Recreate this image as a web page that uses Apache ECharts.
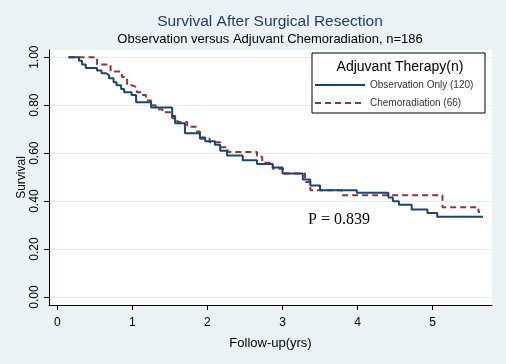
<!DOCTYPE html>
<html>
<head>
<meta charset="utf-8">
<script src="https://cdn.jsdelivr.net/npm/echarts@6/dist/echarts.min.js"></script>
<style>
  html, body { margin: 0; padding: 0; background: #eaf2f3; }
  #chart { width: 506px; height: 364px; }
</style>
</head>
<body>
<div id="chart"></div>
<script>
// Kaplan-Meier steps: [years, survival]
const observation = [
  [0.15, 1.00], [0.29, 0.985], [0.33, 0.97], [0.38, 0.955], [0.53, 0.945],
  [0.59, 0.933], [0.65, 0.925], [0.69, 0.912], [0.75, 0.896], [0.79, 0.883],
  [0.85, 0.867], [0.89, 0.854], [0.99, 0.842], [1.05, 0.812], [1.25, 0.79],
  [1.53, 0.755], [1.57, 0.725], [1.70, 0.683], [1.90, 0.665], [1.97, 0.65],
  [2.10, 0.635], [2.17, 0.61], [2.26, 0.59], [2.47, 0.57], [2.66, 0.555],
  [2.87, 0.54], [3.00, 0.515], [3.27, 0.49], [3.37, 0.465], [3.50, 0.445],
  [3.99, 0.435], [4.41, 0.415], [4.47, 0.40], [4.55, 0.385], [4.72, 0.365],
  [4.93, 0.35], [5.06, 0.335], [5.67, 0.335]
]
const chemoradiation = [
  [0.15, 1.00], [0.53, 0.97], [0.71, 0.94], [0.86, 0.917], [0.93, 0.883],
  [0.99, 0.875], [1.06, 0.854], [1.13, 0.842], [1.18, 0.82], [1.25, 0.80],
  [1.31, 0.783], [1.40, 0.77], [1.53, 0.745], [1.60, 0.73], [1.73, 0.71],
  [1.86, 0.69], [1.90, 0.66], [2.03, 0.645], [2.17, 0.625], [2.27, 0.605],
  [2.66, 0.585], [2.73, 0.56], [2.87, 0.535], [3.01, 0.515], [3.30, 0.48],
  [3.37, 0.445], [3.79, 0.425], [5.13, 0.375], [5.61, 0.355], [5.63, 0.355]
]
const xTicks = [0, 1, 2, 3, 4, 5]
const yTicks = [0, 0.2, 0.4, 0.6, 0.8, 1.0]
const seriesNames = ['Observation Only (120)', 'Chemoradiation (66)']

const chart = echarts.init(document.getElementById('chart'))

const font = 'Liberation Sans, Arial, sans-serif'

const option = {
  backgroundColor: '#eaf2f3',
  animation: false,
  grid: {
    left: 49, right: 14, top: 50, bottom: 59,
    show: true, backgroundColor: '#fff', borderWidth: 0
  },
  xAxis: {
    type: 'value',
    min: -0.11, max: 5.79,
    name: 'Follow-up(yrs)',
    nameLocation: 'middle',
    nameGap: 32,
    nameTextStyle: { fontFamily: font, fontSize: 13, color: '#000' },
    axisLine: { show: true, onZero: false, lineStyle: { color: '#000', width: 1 } },
    axisTick: { show: true, length: 5, customValues: xTicks, lineStyle: { color: '#000' } },
    axisLabel: { customValues: xTicks, fontFamily: font, fontSize: 12, color: '#000', margin: 12 },
    splitLine: { show: false }
  },
  yAxis: {
    type: 'value',
    min: -0.033, max: 1.03,
    name: 'Survival',
    nameLocation: 'middle',
    nameGap: 21,
    nameMoveOverlap: false,
    nameTextStyle: { fontFamily: font, fontSize: 12, color: '#000' },
    axisLine: { show: true, onZero: false, lineStyle: { color: '#000', width: 1 } },
    axisTick: { show: true, length: 5, customValues: yTicks, lineStyle: { color: '#000' } },
    axisLabel: {
      customValues: yTicks, rotate: 90, fontFamily: font, fontSize: 12, color: '#000', margin: 8,
      formatter: v => v.toFixed(2)
    },
    splitLine: { show: true, lineStyle: { color: '#e6eef0', width: 1 } }
  },
  legend: {
    orient: 'vertical',
    left: 309, top: 75,
    z: 20,
    itemWidth: 50, itemHeight: 10, itemGap: 8,
    itemStyle: { opacity: 0 },
    textStyle: { fontFamily: font, fontSize: 10, color: '#333' },
    data: seriesNames
  },
  graphic: [
    {
      type: 'text',
      x: 270, y: 22,
      style: {
        text: 'Survival After Surgical Resection', font: '15.5px ' + font, fill: '#1e3a5f',
        textAlign: 'center', textVerticalAlign: 'middle'
      }
    },
    {
      type: 'text',
      x: 270, y: 39,
      style: {
        text: 'Observation versus Adjuvant Chemoradiation, n=186', font: '13px ' + font, fill: '#000',
        textAlign: 'center', textVerticalAlign: 'middle'
      }
    },
    {
      type: 'rect',
      shape: { x: 312, y: 53, width: 173, height: 60 },
      style: { fill: '#fff', stroke: '#000', lineWidth: 1 },
      z: 10
    },
    {
      type: 'text',
      x: 400, y: 67,
      style: {
        text: 'Adjuvant Therapy(n)', font: '14px ' + font, fill: '#000',
        textAlign: 'center', textVerticalAlign: 'middle'
      },
      z: 11
    },
    {
      type: 'text',
      x: 308, y: 220,
      style: {
        text: 'P = 0.839', font: '16px Liberation Serif, Times New Roman, serif', fill: '#000',
        textVerticalAlign: 'middle'
      },
      z: 11
    }
  ],
  series: [
    {
      name: seriesNames[0],
      type: 'line',
      step: 'end',
      symbol: 'none',
      data: observation,
      lineStyle: { color: '#1a476f', width: 2 },
      itemStyle: { color: '#1a476f' },
      z: 3
    },
    {
      name: seriesNames[1],
      type: 'line',
      step: 'end',
      symbol: 'none',
      data: chemoradiation,
      lineStyle: { color: '#90353b', width: 2, type: [6, 4] },
      itemStyle: { color: '#90353b' },
      z: 2
    }
  ]
}

chart.setOption(option)
</script>
</body>
</html>
